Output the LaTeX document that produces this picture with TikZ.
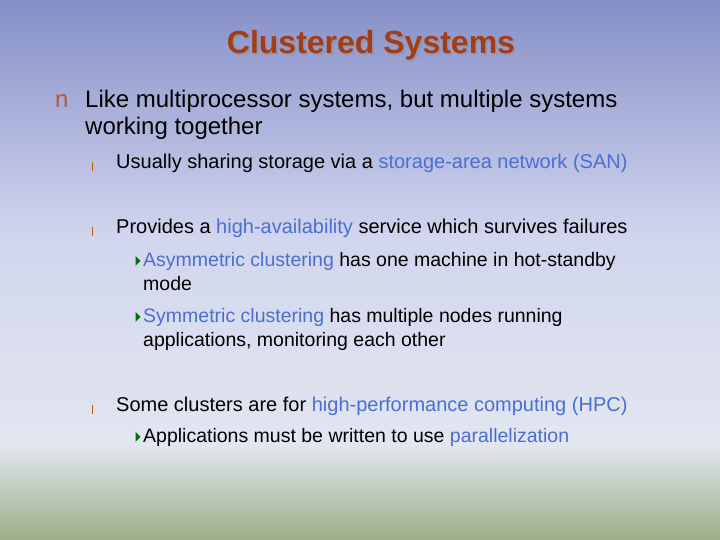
\documentclass[tikz,border=0pt]{standalone}
\usepackage{fontspec}
\setmainfont{Liberation Sans}
\definecolor{hl}{HTML}{4A6FD0}
\definecolor{ttl}{HTML}{A23E17}
\definecolor{bgA}{HTML}{8690C8}
\definecolor{bgB}{HTML}{D2D6EE}
\definecolor{bgC}{HTML}{E2E6F0}
\definecolor{bgD}{HTML}{9DAE88}
\begin{document}
\begin{tikzpicture}[x=1pt,y=1pt,
  lA/.style={anchor=base west,inner sep=0,font=\fontsize{24}{28}\selectfont},
  lB/.style={anchor=base west,inner sep=0,font=\fontsize{20}{24}\selectfont},
  lC/.style={anchor=base west,inner sep=0,font=\fontsize{19.5}{23}\selectfont},
  bar/.style={fill=orange!75!black},
  tri/.style={fill=green!45!black}]
\useasboundingbox (0,0) rectangle (720,540);
\shade[top color=bgA,bottom color=bgB] (0,300) rectangle (720,540);
\shade[top color=bgB,bottom color=bgC] (0,95) rectangle (720,300.5);
\shade[top color=bgC,bottom color=bgD] (0,0) rectangle (720,95.5);
\node[anchor=base,inner sep=0,font=\fontsize{32}{36}\selectfont\bfseries,text=black!45,opacity=0.45] (tsh) at (373,484) {Clustered Systems};
\node[anchor=base,inner sep=0,font=\fontsize{32}{36}\selectfont\bfseries,text=ttl] (title) at (371,486) {Clustered Systems};
\node[lA,text=ttl!85] (b1) at (55,432) {n};
\node[lA] (t1) at (85,432) {Like multiprocessor systems, but multiple systems};
\node[lA] (t1b) at (85,405) {working together};
\fill[bar] (91.5,369) rectangle (93,378);
\node[lB] (t2) at (116,371) {Usually sharing storage via a \textcolor{hl}{storage-area network (SAN)}};
\fill[bar] (91.5,304) rectangle (93,313);
\node[lB] (t3) at (116,306) {Provides a \textcolor{hl}{high-availability} service which survives failures};
\fill[tri] (135.5,284) -- (135.5,274) -- (140.5,279) -- cycle;
\node[lC] (L4) at (143,273) {\textcolor{hl}{Asymmetric clustering} has one machine in hot-standby};
\node[lC] (L4b) at (143,249) {mode};
\fill[tri] (135.5,228) -- (135.5,218) -- (140.5,223) -- cycle;
\node[lC] (L5) at (143,217) {\textcolor{hl}{Symmetric clustering} has multiple nodes running};
\node[lC] (L5b) at (143,193) {applications, monitoring each other};
\fill[bar] (91.5,126) rectangle (93,135);
\node[lB] (t6) at (116,128) {Some clusters are for \textcolor{hl}{high-performance computing (HPC)}};
\fill[tri] (135.5,108) -- (135.5,98) -- (140.5,103) -- cycle;
\node[lC] (L7) at (143,97) {Applications must be written to use \textcolor{hl}{parallelization}};
\end{tikzpicture}
\end{document}
